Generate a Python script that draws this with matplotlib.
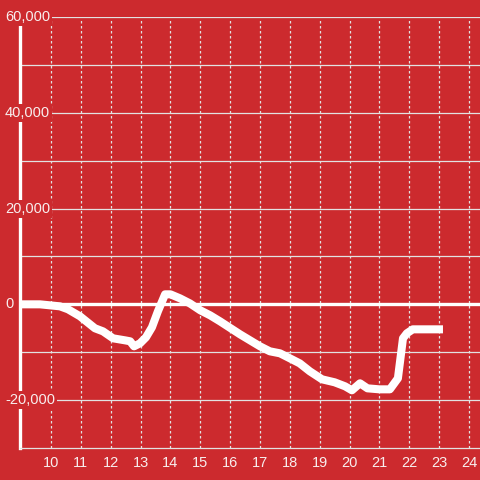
import matplotlib
matplotlib.use("Agg")
import matplotlib.pyplot as plt
import matplotlib.transforms as mtransforms

# data
hours = [8.96, 9.63, 10.3, 10.57, 10.97, 11.47, 11.74, 12.08, 12.48, 12.65,
         12.78, 12.98, 13.18, 13.38, 13.58, 13.82, 14.0, 14.32, 14.65, 15.0,
         15.33, 15.66, 16.33, 17.0, 17.33, 17.67, 18.0, 18.33, 18.67, 19.08,
         19.5, 19.85, 20.08, 20.35, 20.6, 21.0, 21.35, 21.62, 21.79, 21.92,
         22.12, 23.13]
values = [0, 0, -420, -1040, -2500, -5000, -5640, -7100, -7520, -7720,
          -8770, -8140, -6890, -4800, -1460, 2090, 2090, 1250, 200, -1250,
          -2300, -3550, -6260, -8770, -9810, -10230, -11270, -12320, -13990, -15660,
          -16280, -17120, -17950, -16490, -17540, -17750, -17750, -15450, -7100, -6050,
          -5220, -5220]

x_ticks = list(range(10, 25))
y_grid = list(range(-20000, 60001, 10000))
y_labels = [-20000, 0, 20000, 40000, 60000]

bg = "#cc2a2e"
grid_col = "#e2e2e2"
text_col = "#f8eeee"

plt.rcParams['font.family'] = ['Liberation Sans', 'DejaVu Sans']

fig = plt.figure(figsize=(4.8, 4.8), dpi=100)
fig.patch.set_facecolor(bg)
ax = fig.add_axes([20 / 480, 32 / 480, 460 / 480, 431 / 480])
ax.set_facecolor(bg)
ax.set_xlim(8.96, 24.37)
ax.set_ylim(-30000, 60000)

for s in ["top", "right"]:
    ax.spines[s].set_visible(False)
ax.spines["left"].set_color("white")
ax.spines["left"].set_linewidth(2.4)
ax.spines["bottom"].set_color(grid_col)
ax.spines["bottom"].set_linewidth(0.9)

# grid lines
for y in y_grid:
    if y == 0:
        ax.axhline(y, color="white", lw=2.4, zorder=2)
    else:
        ax.axhline(y, color=grid_col, lw=0.9, zorder=1)
for x in x_ticks:
    ax.axvline(x, ymax=0.995, color=grid_col, lw=0.9, ls=(0, (2, 2)), zorder=1)

ax.set_xticks(x_ticks)
ax.set_xticklabels([str(x) for x in x_ticks], color=text_col, fontsize=10.5)
ax.tick_params(axis="x", length=0, pad=6)
ax.set_yticks([])

# y labels sit over the axis with a red box behind them
trans = mtransforms.blended_transform_factory(fig.transFigure, ax.transData)
for y in y_labels:
    ax.text(5 / 480, y, "{:,}".format(y), transform=trans,
            ha="left", va="center", color=text_col, fontsize=10.5, clip_on=False,
            zorder=4, bbox=dict(facecolor=bg, edgecolor="none", pad=1.5))

ax.plot(hours, values, color="white", lw=5.8, solid_joinstyle="round",
        solid_capstyle="butt", zorder=5, clip_on=False)

fig.savefig("out.png", dpi=100, facecolor=bg)
